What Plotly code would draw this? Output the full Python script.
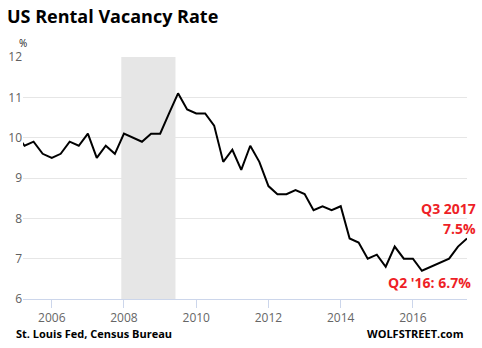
import plotly.graph_objects as go
import pandas as pd

# Quarterly dates (Q1 2005 .. Q3 2017)
quarters = [d.strftime("%Y-%m-%d") for d in pd.date_range("2005-01-01", "2017-07-01", freq="QS")]

vacancy_rate = [
    10.1, 9.8, 9.9, 9.6,   # 2005
    9.5, 9.6, 9.9, 9.8,    # 2006
    10.1, 9.5, 9.8, 9.6,   # 2007
    10.1, 10.0, 9.9, 10.1, # 2008
    10.1, 10.6, 11.1, 10.7,# 2009
    10.6, 10.6, 10.3, 9.4, # 2010
    9.7, 9.2, 9.8, 9.4,    # 2011
    8.8, 8.6, 8.6, 8.7,    # 2012
    8.6, 8.2, 8.3, 8.2,    # 2013
    8.3, 7.5, 7.4, 7.0,    # 2014
    7.1, 6.8, 7.3, 7.0,    # 2015
    7.0, 6.7, 6.8, 6.9,    # 2016
    7.0, 7.3, 7.5,         # 2017
]

recession = ["2007-12-05", "2009-06-05"]
x_tick_years = ["2006", "2008", "2010", "2012", "2014", "2016"]
y_ticks = [6, 7, 8, 9, 10, 11, 12]

RED = "#ee1f27"
FONT = "Open Sans"

fig = go.Figure()
fig.add_trace(go.Scatter(
    x=quarters, y=vacancy_rate, mode="lines",
    line=dict(color="#000000", width=2),
    hoverinfo="skip", showlegend=False,
))

fig.add_shape(type="rect", xref="x", yref="paper",
              x0=recession[0], x1=recession[1], y0=0, y1=1,
              fillcolor="#e6e6e6", line=dict(width=0), layer="between")

fig.update_layout(
    width=482, height=348,
    margin=dict(l=23, r=15, t=57, b=49),
    paper_bgcolor="white", plot_bgcolor="white",
    font=dict(family=FONT, color="#333333"),
    xaxis=dict(
        type="date",
        range=["2005-03-16", "2017-07-01"],
        tickvals=[f"{y}-01-01" for y in x_tick_years],
        ticktext=x_tick_years,
        ticks="outside", ticklen=8, tickcolor="#ccd6eb", tickwidth=1,
        showline=True, linecolor="#ccd6eb", linewidth=1,
        showgrid=False, zeroline=False, automargin=False,
        tickfont=dict(family=FONT, size=12, color="#666666"),
    ),
    yaxis=dict(
        range=[6, 12],
        tickvals=y_ticks,
        ticktext=[str(v) for v in y_ticks],
        showgrid=True, gridcolor="#e6e6e6", gridwidth=1,
        zeroline=False, showline=False, ticks="", automargin=False,
        tickfont=dict(family=FONT, size=12, color="#606060"),
    ),
    title=dict(
        text="<b>US Rental Vacancy Rate</b>",
        font=dict(family=FONT, size=18, color="#000000"),
        xref="container", x=7/482, xanchor="left",
        yref="container", y=1 - 17/348, yanchor="middle",
    ),
    showlegend=False,
)

annotations = [
    dict(text="%", x=22.5/482, y=1 - 42.5/348, xanchor="center", yanchor="middle",
         font=dict(size=10, color="#222222")),
    dict(text="<b>St. Louis Fed, Census Bureau</b>", x=14/482, y=1 - 333/348,
         xanchor="left", yanchor="middle", font=dict(size=11, color="#000000")),
    dict(text="<b>WOLFSTREET.com</b>", x=465/482, y=1 - 333/348,
         xanchor="right", yanchor="middle", font=dict(size=11, color="#000000")),
    dict(text="<b>Q3 2017</b>", x=478/482, y=1 - 208/348,
         xanchor="right", yanchor="middle", font=dict(size=14, color=RED)),
    dict(text="<b>7.5%</b>", x=478/482, y=1 - 228.5/348,
         xanchor="right", yanchor="middle", font=dict(size=14, color=RED)),
    dict(text="<b>Q2 '16: 6.7%</b>", x=473/482, y=1 - 282/348,
         xanchor="right", yanchor="middle", font=dict(size=14, color=RED)),
]
for a in annotations:
    a.update(xref="paper", yref="paper", showarrow=False)
    # convert page-pixel positions to paper fractions
    px = a["x"] * 482
    py = (1 - a["y"]) * 348
    a["x"] = (px - 23) / 444
    a["y"] = (299 - py) / 242
fig.update_layout(annotations=annotations)

fig.write_html("out.html")
